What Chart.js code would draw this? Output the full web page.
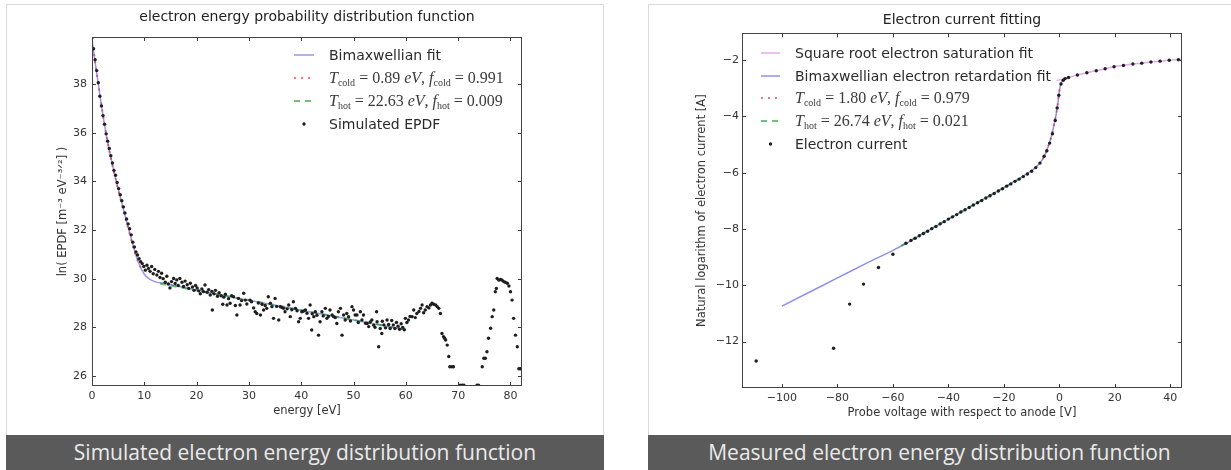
<!DOCTYPE html>
<html>
<head>
<meta charset="utf-8">
<script src="https://cdn.jsdelivr.net/npm/chart.js"></script>
<style>
  html, body { margin: 0; padding: 0; background: #ffffff; }
  body { width: 1231px; height: 470px; position: relative; overflow: hidden; font-family: "DejaVu Sans", sans-serif; }
  .card { position: absolute; top: 4px; height: 466px; box-sizing: border-box; border: 1px solid #dadada; border-bottom: none; background: #ffffff; }
  #cardL { left: 6px; width: 598px; }
  #cardR { left: 648px; width: 583px; border-right: none; }
  .caption { position: absolute; top: 435px; height: 35px; background: #5a5a5a; color: #eaeaea;
             font-family: "Open Sans", sans-serif; font-size: 21px; line-height: 35px; text-align: center; white-space: nowrap; }
  #capL { left: 6px; width: 598px; }
  #capR { left: 648px; width: 583px; }
  canvas { position: absolute; top: 0; }
  #chartL { left: 0; }
  #chartR { left: 648px; }
  .lg-row { position: absolute; display: flex; align-items: center; white-space: nowrap;
            font-family: "DejaVu Sans", sans-serif; font-size: 14px; color: #2a2a2a; }
  .lg-row svg { flex: none; }
  .mt { font-family: "Liberation Serif", serif; font-size: 16px; color: #3a3a3a; }
  .mt i { font-style: italic; }
  .mt sub { font-size: 10px; vertical-align: -3px; line-height: 0; }
</style>
</head>
<body>
<div class="card" id="cardL"></div>
<div class="card" id="cardR"></div>
<canvas id="chartL" width="610" height="435"></canvas>
<canvas id="chartR" width="583" height="435"></canvas>
<div class="caption" id="capL">Simulated electron energy distribution function</div>
<div class="caption" id="capR">Measured electron energy distribution function</div>

<script>
// ---------- EPDF panel ----------
const energyTicks = [0, 10, 20, 30, 40, 50, 60, 70, 80];
const epdfTicks = [26, 28, 30, 32, 34, 36, 38];

// simulated EPDF samples: energy [eV] and ln(EPDF)
const epdfEnergy = [
  0.0, 0.3, 0.6, 0.9, 1.2, 1.5, 1.8, 2.1, 2.4, 2.7, 3.0, 3.3, 3.6, 3.9, 4.2, 4.5, 4.8, 5.1, 5.4, 5.7,
  6.0, 6.3, 6.6, 6.9, 7.2, 7.5, 7.8, 8.1, 8.4, 8.7, 9.0, 9.3, 9.6, 9.9,
  10.2, 10.5, 10.8, 11.1, 11.4, 11.7, 12.0, 12.4, 12.7, 13.0, 13.3, 13.6, 14.0, 14.3, 14.6, 14.9,
  15.2, 15.6, 15.9, 16.2, 16.5, 16.8, 17.2, 17.5, 17.8, 18.2, 18.5, 18.8, 19.2, 19.5, 19.8,
  20.1, 20.4, 20.7, 21.0, 21.3, 21.6, 22.0, 22.3, 22.6, 22.9, 23.0, 23.3, 23.6, 24.0, 24.3, 24.7,
  25.0, 25.2, 25.5, 25.8, 26.1, 26.4, 26.7, 27.05, 27.4, 27.7, 28.0, 28.3, 28.6, 29.0, 29.3, 29.6,
  30.2, 30.5, 30.9, 31.2, 31.5, 31.8, 32.2, 32.5, 32.8, 33.1, 33.4, 33.7, 34.1, 34.4, 34.7,
  35.0, 35.3, 35.7, 36.0, 36.3, 36.6, 36.9, 37.3, 37.6, 37.9, 38.2, 38.5, 38.9, 39.2, 39.5, 39.8,
  40.1, 40.4, 40.8, 41.1, 41.4, 41.7, 42.0, 42.1, 42.4, 42.7, 43.0, 43.3, 43.6, 43.95, 44.2, 44.6, 44.9,
  45.2, 45.5, 45.9, 46.2, 46.5, 46.8, 47.1, 47.5, 47.8, 48.1, 48.4, 48.7, 49.05, 49.4, 49.7,
  50.0, 50.3, 50.65, 50.9, 51.3, 51.6, 51.9, 52.3, 52.6, 52.9, 53.2, 53.5, 53.85, 54.1, 54.4, 54.5,
  54.8, 55.1, 55.4, 55.5, 55.8, 56.1, 56.4, 56.7, 57.0, 57.3, 57.6, 57.9, 58.2, 58.5, 58.8, 59.1,
  59.4, 59.7, 59.9, 60.2, 60.5, 60.8, 61.2, 61.5, 61.8, 62.1, 62.5, 62.8, 63.1, 63.4, 63.7, 64.05,
  64.4, 64.7, 65.0, 65.3, 65.7, 66.0, 66.3, 66.6, 66.9, 67.2, 67.4, 67.6, 67.9, 68.2, 68.4, 68.8,
  69.1, 70.4, 70.8, 71.1, 73.6, 73.9, 74.6, 74.9, 75.2, 75.5, 75.8, 76.2, 76.5, 76.8, 77.1, 77.3,
  77.45, 77.8, 78.1, 78.4, 78.7, 79.0, 79.4, 79.7, 80.0, 80.3, 80.6, 80.96, 81.3, 81.6, 81.9
];
const epdfValue = [
  39.9, 39.45, 39.0, 38.55, 38.05, 37.5, 37.1, 36.7, 36.35, 35.95, 35.65, 35.35, 35.05, 34.75, 34.45, 34.25, 33.95, 33.7, 33.45, 33.2,
  32.95, 32.7, 32.45, 32.25, 32.05, 31.8, 31.5, 31.3, 31.1, 30.97, 30.82, 30.7, 30.62, 30.5,
  30.35, 30.55, 30.42, 30.3, 30.5, 30.2, 30.38, 30.15, 30.3, 30.05, 30.22, 30.0, 29.85, 30.1, 29.78, 29.62,
  29.88, 30.01, 29.8, 29.95, 29.72, 30.01, 29.85, 29.68, 29.9, 29.75, 29.6, 29.81, 29.66, 29.52, 29.72,
  29.62, 29.5, 29.38, 29.58, 29.47, 29.74, 29.44, 29.55, 29.33, 29.48, 28.71, 29.38, 29.52, 29.28, 29.42, 29.3,
  28.95, 29.24, 29.36, 28.92, 29.18, 28.99, 29.3, 29.26, 28.9, 28.51, 29.19, 28.92, 29.1, 29.4, 29.12, 28.96,
  29.12, 29.05, 28.8, 28.64, 28.57, 29.0, 28.51, 28.95, 28.71, 28.9, 28.78, 29.26, 28.99, 28.85, 28.37,
  29.19, 28.86, 28.3, 28.85, 28.82, 28.78, 28.64, 28.76, 28.92, 28.44, 28.72, 29.05, 28.78, 28.68, 28.23, 28.37,
  28.64, 28.66, 28.71, 28.58, 28.37, 28.92, 27.89, 28.56, 28.44, 28.64, 28.5, 27.68, 28.23, 28.64, 28.47, 28.78, 28.37,
  28.45, 28.71, 28.51, 28.44, 28.4, 28.16, 28.64, 28.78, 27.68, 28.51, 28.3, 28.57, 28.44, 28.26, 28.85,
  28.71, 28.51, 28.51, 28.2, 28.64, 28.3, 28.51, 28.17, 28.16, 28.03, 28.22, 28.3, 28.09, 28.0, 28.64, 28.23,
  27.2, 27.95, 27.75, 28.25, 28.1, 27.98, 28.3, 28.12, 27.95, 28.28, 28.1, 27.95, 28.2, 28.05, 27.92, 28.15,
  28.0, 27.9, 28.37, 28.2, 28.3, 28.45, 28.44, 28.71, 28.4, 28.57, 28.65, 28.78, 28.92, 28.6, 28.71, 28.85,
  28.8, 28.92, 28.99, 28.95, 28.92, 28.85, 28.78, 28.57, 27.75, 27.62, 27.55, 27.48, 27.27, 26.8, 26.38, 26.38,
  26.38, 25.62, 25.62, 25.62, 25.62, 25.62, 26.38, 26.73, 26.73, 27.0, 27.55, 27.96, 28.44, 28.71, 29.46, 29.6,
  30.01, 29.94, 29.97, 29.94, 29.88, 29.85, 29.81, 29.7, 29.46, 29.12, 28.37, 27.68, 27.2, 26.3, 26.3
];

// bimaxwellian fit curve
const fitEnergy = [0, 1, 2, 3, 4, 5, 6, 7, 8, 9, 10, 11, 12, 14, 16, 20, 30, 40, 50, 60];
const fitValue = [39.8, 38.3, 36.85, 35.6, 34.6, 33.7, 32.85, 32.05, 31.25, 30.6, 30.18, 29.98, 29.88, 29.8, 29.71, 29.53, 29.11, 28.7, 28.3, 27.9];
// cold and hot components
const coldEnergy = [0, 1, 2, 3, 4, 5, 6, 7, 8, 9, 9.5];
const coldValue = [39.8, 38.3, 36.85, 35.6, 34.55, 33.65, 32.8, 32.0, 31.2, 30.6, 30.4];
const hotEnergy = [13, 60];
const hotValue = [29.8, 27.9];
const coldTempL = 0.89, coldFracL = 0.991, hotTempL = 22.63, hotFracL = 0.009;

// ---------- probe current panel ----------
const voltageTicks = [-100, -80, -60, -40, -20, 0, 20, 40];
const currentTicks = [-12, -10, -8, -6, -4, -2];

const probeVoltage = [
  -109.3, -81.4, -75.6, -70.6, -65.2, -60.0, -55.3, -53.5, -52, -50.5, -49, -47.5, -46, -44.5, -43, -41.5,
  -40, -38.5, -37, -35.5, -34, -32.5, -31, -29.5, -28, -26.5, -25, -23.5, -22, -20.5, -19, -17.5, -16, -14.5,
  -13, -11.5, -10, -8.5, -7, -5.5, -4.5, -3.5, -2.5, -1.5, -0.8, -0.2, 0.6, 1.4, 2.1,
  3.3, 6.5, 9.9, 13.3, 16.5, 19.7, 23.1, 26.5, 29.7, 33.0, 36.3, 39.6, 42.9
];
const lnCurrent = [
  -12.69, -12.24, -10.67, -9.96, -9.37, -8.90, -8.51, -8.41, -8.33, -8.24, -8.16, -8.08, -7.99, -7.91, -7.82, -7.74,
  -7.65, -7.57, -7.49, -7.40, -7.32, -7.24, -7.15, -7.07, -6.99, -6.90, -6.82, -6.74, -6.65, -6.57, -6.48, -6.40, -6.31, -6.23,
  -6.14, -6.05, -5.95, -5.82, -5.66, -5.42, -5.22, -4.95, -4.62, -4.15, -3.70, -3.25, -2.85, -2.72, -2.66,
  -2.62, -2.53, -2.45, -2.38, -2.31, -2.24, -2.19, -2.14, -2.11, -2.07, -2.04, -2.01, -1.99
];
const satVoltage = [-1, 1, 3.3, 6.5, 9.9, 13.3, 16.5, 19.7, 23.1, 26.5, 29.7, 33, 36.3, 39.6, 44];
const satValue = [-2.73, -2.68, -2.62, -2.53, -2.45, -2.38, -2.31, -2.24, -2.19, -2.14, -2.11, -2.07, -2.04, -2.01, -1.97];
const retVoltage = [-100, -90, -80, -70, -60, -55, -50, -40, -30, -20, -15, -12, -10, -8, -6, -5, -4, -3, -2, -1.2, -0.5, 0, 0.5, 1.2, 2.1];
const retValue = [-10.74, -10.24, -9.74, -9.24, -8.76, -8.5, -8.21, -7.65, -7.09, -6.53, -6.24, -6.05, -5.93, -5.76, -5.52, -5.32, -5.06, -4.75, -4.33, -3.95, -3.5, -3.1, -2.85, -2.72, -2.65];
const coldVoltage = [-6, -5, -4, -3, -2, -1.2, -0.5, 0, 0.5, 1.2, 2.1];
const coldCurrent = [-5.52, -5.32, -5.06, -4.75, -4.33, -3.95, -3.5, -3.1, -2.85, -2.72, -2.65];
const hotVoltage = [-57, -12];
const hotCurrent = [-8.6, -6.09];
const coldTempR = 1.80, coldFracR = 0.979, hotTempR = 26.74, hotFracR = 0.021;

// ---------- helpers ----------
const FONT = '"DejaVu Sans", sans-serif';
const INK = '#333333';

const pairs = (xs, ys) => xs.map((x, i) => ({ x, y: ys[i] }));
const minusSign = v => String(v).replace('-', '\u2212');
const fixedTicks = values => scale => { scale.ticks = values.map(v => ({ value: v })); };

function mathLabel(kind, temp, frac) {
  return `<span class="mt"><i>T</i><sub>${kind}</sub> = ${temp.toFixed(2)} <i>eV</i>, <i>f</i><sub>${kind}</sub> = ${frac.toFixed(3)}</span>`;
}

function lineSet(label, xs, ys, color, width, dash, order, labelHtml) {
  return {
    label, labelHtml, data: pairs(xs, ys), showLine: true,
    borderColor: color, backgroundColor: color, borderWidth: width, borderDash: dash,
    pointRadius: 0, pointHoverRadius: 0, cubicInterpolationMode: 'monotone', order
  };
}
function pointSet(label, xs, ys, color, radius, order) {
  return {
    label, data: pairs(xs, ys), showLine: false, pointStyle: 'circle',
    pointRadius: radius, pointHoverRadius: radius, pointBorderWidth: 0,
    backgroundColor: color, borderColor: color, order
  };
}

// axes frame with inward tick marks on all four sides
const frameTicks = {
  id: 'frameTicks',
  afterDatasetsDraw(chart) {
    const { ctx, chartArea: a, scales: { x, y } } = chart;
    const L = 4;
    ctx.save();
    ctx.strokeStyle = '#3a3a3a';
    ctx.lineWidth = 1;
    ctx.beginPath();
    x.ticks.forEach(t => {
      const px = Math.round(x.getPixelForValue(t.value)) + 0.5;
      ctx.moveTo(px, a.bottom); ctx.lineTo(px, a.bottom - L);
      ctx.moveTo(px, a.top); ctx.lineTo(px, a.top + L);
    });
    y.ticks.forEach(t => {
      const py = Math.round(y.getPixelForValue(t.value)) + 0.5;
      ctx.moveTo(a.left, py); ctx.lineTo(a.left + L, py);
      ctx.moveTo(a.right, py); ctx.lineTo(a.right - L, py);
    });
    ctx.stroke();
    ctx.strokeStyle = '#444444';
    ctx.strokeRect(Math.round(a.left) + 0.5, Math.round(a.top) + 0.5,
                   Math.round(a.right - a.left) - 1, Math.round(a.bottom - a.top) - 1);
    ctx.restore();
  }
};

function makeOptions(o) {
  return {
    responsive: false, animation: false, events: [],
    layout: { padding: { left: 0, right: o.padRight, top: 0, bottom: 0 } },
    plugins: {
      legend: { display: false }, tooltip: { enabled: false },
      title: {
        display: true, text: o.title, fullSize: false, color: '#222222',
        font: { family: FONT, size: 14, weight: 'normal' },
        padding: { top: o.titleTop, bottom: o.titleBottom }
      }
    },
    scales: {
      x: {
        type: 'linear', min: o.xMin, max: o.xMax,
        afterBuildTicks: fixedTicks(o.xTicks),
        afterFit: s => { s.height = o.xHeight; },
        grid: { display: false, drawTicks: false }, border: { display: false },
        ticks: { padding: 4, color: INK, font: { family: FONT, size: 11 }, callback: minusSign, maxRotation: 0 },
        title: { display: true, text: o.xTitle, color: INK, font: { family: FONT, size: 11.5 },
                 padding: { top: 0, bottom: o.xTitlePad } }
      },
      y: {
        type: 'linear', min: o.yMin, max: o.yMax,
        afterBuildTicks: fixedTicks(o.yTicks),
        afterFit: s => { s.width = o.yWidth; },
        grid: { display: false, drawTicks: false }, border: { display: false },
        ticks: { padding: o.yTickPad, color: INK, font: { family: FONT, size: 11 }, callback: minusSign },
        title: { display: true, text: o.yTitle, color: INK, font: { family: FONT, size: 11.5 },
                 padding: { top: o.yTitlePad, bottom: 0 } }
      }
    }
  };
}

const svgNS = 'http://www.w3.org/2000/svg';
function buildLegend(chart, pos) {
  chart.data.datasets.forEach((ds, i) => {
    const row = document.createElement('div');
    row.className = 'lg-row';
    row.style.left = pos.left + 'px';
    row.style.top = (pos.top + i * pos.step) + 'px';
    row.style.height = pos.step + 'px';
    const sw = document.createElementNS(svgNS, 'svg');
    sw.setAttribute('width', pos.handle);
    sw.setAttribute('height', 12);
    if (ds.showLine) {
      const ln = document.createElementNS(svgNS, 'line');
      ln.setAttribute('x1', 0); ln.setAttribute('x2', pos.handle);
      ln.setAttribute('y1', 6); ln.setAttribute('y2', 6);
      ln.setAttribute('stroke', ds.borderColor);
      ln.setAttribute('stroke-width', ds.borderWidth);
      if (ds.borderDash && ds.borderDash.length) ln.setAttribute('stroke-dasharray', ds.borderDash.join(' '));
      sw.appendChild(ln);
    } else {
      const c = document.createElementNS(svgNS, 'circle');
      c.setAttribute('cx', pos.handle / 2); c.setAttribute('cy', 6);
      c.setAttribute('r', ds.pointRadius);
      c.setAttribute('fill', ds.backgroundColor);
      sw.appendChild(c);
    }
    const txt = document.createElement('span');
    txt.style.marginLeft = pos.gap + 'px';
    if (ds.labelHtml) txt.innerHTML = ds.labelHtml; else txt.textContent = ds.label;
    row.appendChild(sw);
    row.appendChild(txt);
    document.body.appendChild(row);
  });
}

// ---------- left chart ----------
const chartL = new Chart(document.getElementById('chartL'), {
  type: 'scatter',
  data: {
    datasets: [
      lineSet('Bimaxwellian fit', fitEnergy, fitValue, 'rgba(95,95,225,0.65)', 1.5, [], 3),
      lineSet('T_cold = ' + coldTempL + ' eV, f_cold = ' + coldFracL, coldEnergy, coldValue,
              'rgba(235,30,30,0.6)', 2, [2, 5], 2, mathLabel('cold', coldTempL, coldFracL)),
      lineSet('T_hot = ' + hotTempL + ' eV, f_hot = ' + hotFracL, hotEnergy, hotValue,
              'rgba(20,150,40,0.6)', 2, [6, 5], 1, mathLabel('hot', hotTempL, hotFracL)),
      pointSet('Simulated EPDF', epdfEnergy, epdfValue, '#1e1e1e', 1.7, 0)
    ]
  },
  options: makeOptions({
    title: 'electron energy probability distribution function', titleTop: 8.6, titleBottom: 11.6,
    padRight: 88, xMin: 0, xMax: 82.2, xTicks: energyTicks, xHeight: 49, xTitle: 'energy [eV]', xTitlePad: 17,
    yMin: 25.59, yMax: 39.93, yTicks: epdfTicks, yWidth: 92, yTickPad: 5,
    yTitle: 'ln( EPDF [m\u207B\u00B3 eV\u207B\u00B3\u141F\u00B2] )', yTitlePad: 56
  }),
  plugins: [frameTicks]
});

// ---------- right chart ----------
const chartR = new Chart(document.getElementById('chartR'), {
  type: 'scatter',
  data: {
    datasets: [
      lineSet('Square root electron saturation fit', satVoltage, satValue, 'rgba(215,110,225,0.6)', 1.5, [], 4),
      lineSet('Bimaxwellian electron retardation fit', retVoltage, retValue, 'rgba(70,70,215,0.6)', 1.5, [], 3),
      lineSet('T_cold = ' + coldTempR + ' eV, f_cold = ' + coldFracR, coldVoltage, coldCurrent,
              'rgba(235,30,30,0.6)', 2, [2, 5], 2, mathLabel('cold', coldTempR, coldFracR)),
      lineSet('T_hot = ' + hotTempR + ' eV, f_hot = ' + hotFracR, hotVoltage, hotCurrent,
              'rgba(20,150,40,0.6)', 2, [6, 5], 1, mathLabel('hot', hotTempR, hotFracR)),
      pointSet('Electron current', probeVoltage, lnCurrent, '#1e1e1e', 1.7, 0)
    ]
  },
  options: makeOptions({
    title: 'Electron current fitting', titleTop: 11.6, titleBottom: 4.9,
    padRight: 49, xMin: -114.4, xMax: 44.2, xTicks: voltageTicks, xHeight: 47,
    xTitle: 'Probe voltage with respect to anode [V]', xTitlePad: 15,
    yMin: -13.65, yMax: -1.05, yTicks: currentTicks, yWidth: 94, yTickPad: 3,
    yTitle: 'Natural logarithm of electron current [A]', yTitlePad: 47
  }),
  plugins: [frameTicks]
});

buildLegend(chartL, { left: 294, top: 43.5, step: 23, handle: 20, gap: 15 });
buildLegend(chartR, { left: 761, top: 41.6, step: 22.7, handle: 19, gap: 15 });
</script>
</body>
</html>
